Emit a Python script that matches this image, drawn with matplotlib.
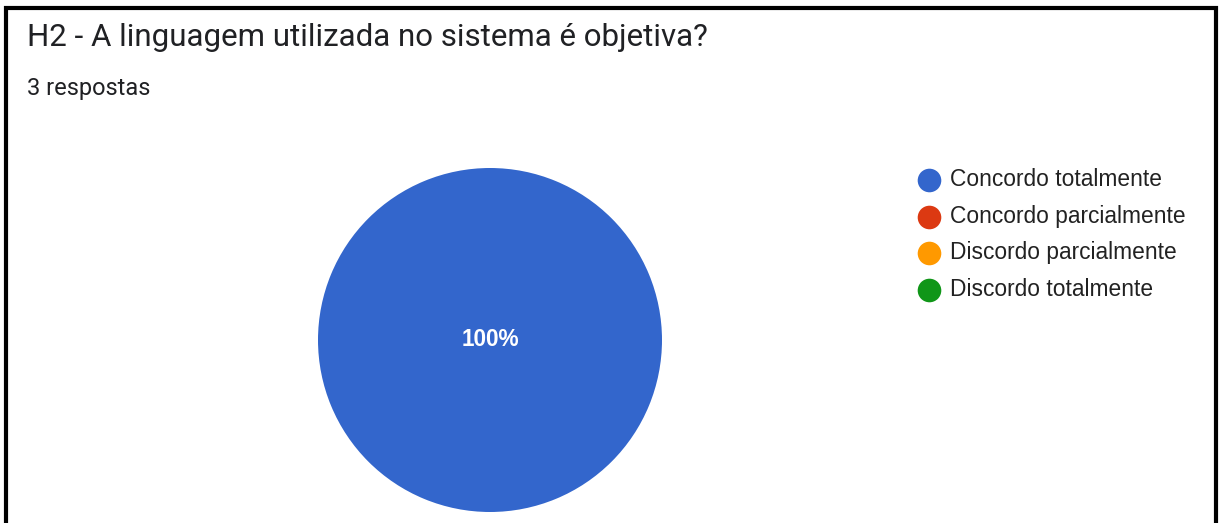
import matplotlib
matplotlib.use("Agg")
import matplotlib.pyplot as plt
from matplotlib.patches import Rectangle

# Survey data
question = "H2 - A linguagem utilizada no sistema é objetiva?"
responses_label = "3 respostas"
categories = ["Concordo totalmente", "Concordo parcialmente",
              "Discordo parcialmente", "Discordo totalmente"]
counts = [3, 0, 0, 0]
colors = ["#3366CC", "#DC3912", "#FF9900", "#109618"]

W, H = 1222, 523
fig = plt.figure(figsize=(W / 100, H / 100), dpi=100)
fig.patch.set_facecolor("white")

def fx(px):
    return px / W

def fy(py):
    return 1 - py / H

# Outer frame
fig.patches.append(Rectangle((fx(6), fy(560)), fx(1210), (560 - 8) / H,
                             transform=fig.transFigure, fill=False,
                             edgecolor="black", linewidth=3))

fig.text(fx(27), fy(38), question, fontsize=22.5, family="Roboto",
         color="#202124", va="center", ha="left")
fig.text(fx(27), fy(88), responses_label, fontsize=17, family="Roboto",
         color="#202124", va="center", ha="left")

# Pie chart
cx, cy, r = 490, 340, 172
ax = fig.add_axes([fx(cx - r), fy(cy + r), 2 * r / W, 2 * r / H])
ax.pie(counts, colors=colors, startangle=90, counterclock=False,
       radius=1, wedgeprops=dict(linewidth=0))
ax.set_xlim(-1, 1)
ax.set_ylim(-1, 1)
ax.set_aspect("equal")
ax.axis("off")

total = sum(counts)
top = max(range(len(counts)), key=lambda i: counts[i])
ax.text(0, 0, f"{counts[top] / total * 100:.0f}%", color="white",
        fontsize=16.3, fontweight="bold", family="Liberation Sans",
        ha="center", va="center")

# Legend
lx, ly0, dy = 929, 180, 36.5
for i, (cat, col) in enumerate(zip(categories, colors)):
    y = ly0 + i * dy
    fig.add_artist(plt.Line2D([fx(lx)], [fy(y)], marker="o", markersize=17,
                              color=col, markeredgewidth=0,
                              transform=fig.transFigure))
    fig.text(fx(950), fy(y), cat, fontsize=16.4, family="Liberation Sans",
             color="#222222", va="center", ha="left")

fig.savefig("out.png", dpi=100, facecolor="white")
